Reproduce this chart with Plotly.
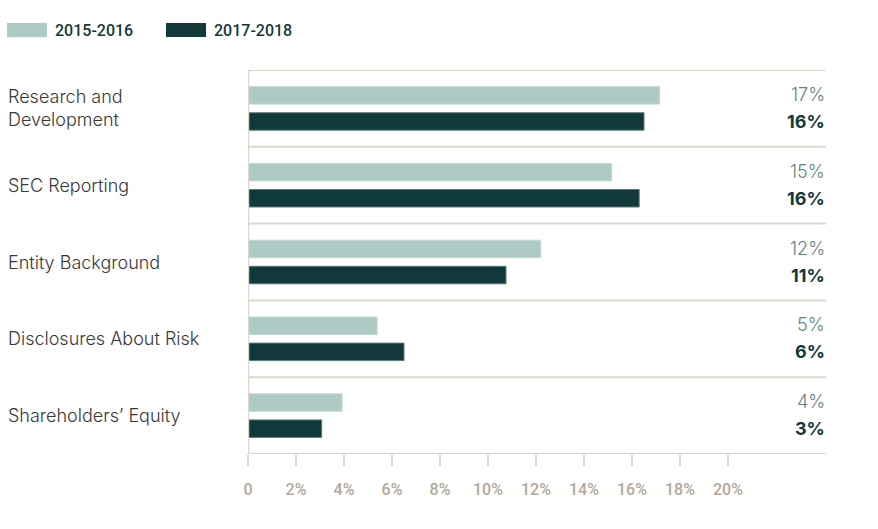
import plotly.graph_objects as go

categories = ["Research and Development", "SEC Reporting", "Entity Background",
              "Disclosures About Risk", "Shareholders’ Equity"]
category_labels = ["Research and<br>Development", "SEC Reporting", "Entity Background",
                   "Disclosures About Risk", "Shareholders’ Equity"]
series_names = ["2015-2016", "2017-2018"]
values_2015 = [17.15, 15.15, 12.2, 5.38, 3.92]
values_2017 = [16.5, 16.3, 10.75, 6.5, 3.07]
labels_2015 = ["17%", "15%", "12%", "5%", "4%"]
labels_2017 = ["16%", "16%", "11%", "6%", "3%"]
tick_vals = [0, 2, 4, 6, 8, 10, 12, 14, 16, 18, 20]
tick_text = ["0", "2%", "4%", "6%", "8%", "10%", "12%", "14%", "16%", "18%", "20%"]

LIGHT = "#adcbc4"
DARK = "#12393a"
GRID = "#ddd6cb"
TICK = "#b3a898"
COND = "Roboto, Liberation Sans, sans-serif"
BODY = "Inter, Roboto, sans-serif"

W, H = 878, 529
L, R, T, B = 248, 52, 70, 75
PW, PH = W - L - R, H - T - B


def px_x(px):
    return (px - L) / PW


def px_y(py):
    return 1 - (py - T) / PH


fig = go.Figure()
fig.add_trace(go.Bar(y=categories, x=values_2015, orientation="h", name=series_names[0],
                     marker=dict(color=LIGHT, line=dict(color="#c3d8d3", width=1)),
                     showlegend=False, hoverinfo="skip"))
fig.add_trace(go.Bar(y=categories, x=values_2017, orientation="h", name=series_names[1],
                     marker=dict(color=DARK, line=dict(color="#5a7a78", width=1)),
                     showlegend=False, hoverinfo="skip"))

shapes = []
n = len(categories)
for i in range(n + 1):
    shapes.append(dict(type="line", xref="paper", yref="y", x0=0, x1=1,
                       y0=i - 0.5, y1=i - 0.5, line=dict(color=GRID, width=2), layer="below"))
shapes.append(dict(type="line", xref="x", yref="y", x0=0, x1=0, y0=-0.5, y1=n - 0.5,
                   line=dict(color=GRID, width=2.5), layer="above"))

annotations = []
for cat, lab in zip(categories, category_labels):
    annotations.append(dict(x=px_x(8), xref="paper", y=cat, yref="y", text=lab, xshift=-2,
                            showarrow=False, xanchor="left", yanchor="middle", align="left",
                            font=dict(family=BODY, size=18, color="#383838", weight=300)))
for cat, t1, t2 in zip(categories, labels_2015, labels_2017):
    annotations.append(dict(x=1, xref="paper", y=cat, yref="y", text=t1, yshift=14, xshift=1,
                            showarrow=False, xanchor="right", yanchor="middle",
                            font=dict(family=BODY, size=18, color="#62827d", weight=300)))
    annotations.append(dict(x=1, xref="paper", y=cat, yref="y", text=t2, yshift=-13,
                            xshift=1, showarrow=False, xanchor="right", yanchor="middle",
                            font=dict(family=BODY, size=18, color=DARK, weight=700)))

# manual legend
for name, color, x0 in [(series_names[0], LIGHT, 7), (series_names[1], DARK, 166)]:
    shapes.append(dict(type="rect", xref="paper", yref="paper",
                       x0=px_x(x0), x1=px_x(x0 + 40), y0=px_y(37), y1=px_y(23),
                       fillcolor=color, line=dict(width=0)))
    annotations.append(dict(x=px_x(x0 + 46), xref="paper", y=px_y(30.5), yref="paper",
                            text=name, showarrow=False, xanchor="left",
                            yanchor="middle",
                            font=dict(family=COND, size=16, color=DARK, weight=500)))

fig.update_layout(
    width=W, height=H,
    margin=dict(l=L, r=R, t=T, b=B),
    paper_bgcolor="white", plot_bgcolor="white",
    barmode="group", bargap=0.32, bargroupgap=0.33,
    shapes=shapes, annotations=annotations,
    showlegend=False,
    xaxis=dict(range=[0, PW / 24.0], tickvals=tick_vals, ticktext=tick_text,
               showgrid=False, zeroline=False, showline=False,
               ticks="outside", ticklen=11, tickwidth=2, tickcolor=GRID,
               ticklabelstandoff=10,
               tickfont=dict(family=COND, size=16, color=TICK, weight=500),
               fixedrange=True),
    yaxis=dict(categoryorder="array", categoryarray=categories, range=[n - 0.5, -0.5],
               showticklabels=False, showgrid=False, zeroline=False, showline=False,
               fixedrange=True),
)

fig.write_html("out.html")
